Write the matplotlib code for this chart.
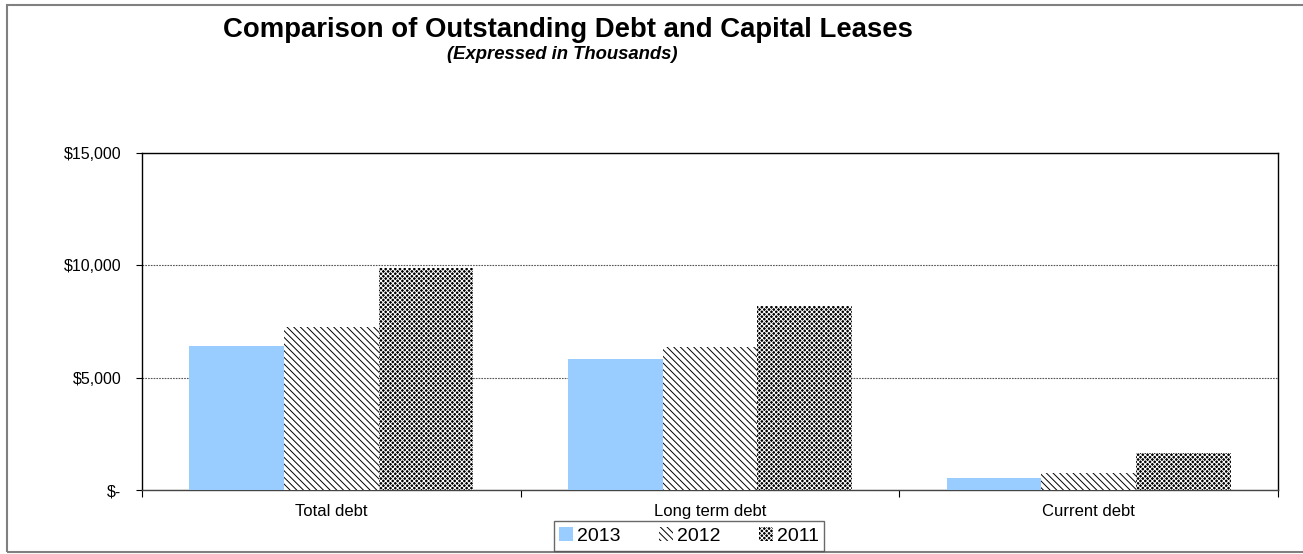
import numpy as np
import matplotlib
matplotlib.use('Agg')
import matplotlib.pyplot as plt
from matplotlib.patches import Rectangle
from matplotlib.ticker import FuncFormatter, MultipleLocator

plt.rcParams['font.family'] = ['Liberation Sans', 'DejaVu Sans']
plt.rcParams['hatch.linewidth'] = 0.7

categories = ['Total debt', 'Long term debt', 'Current debt']
years = ['2013', '2012', '2011']
debt_2013 = [6400, 5820, 530]
debt_2012 = [7240, 6360, 760]
debt_2011 = [9870, 8180, 1640]

barw = 0.25
col2013 = '#99ccff'

fig = plt.figure(figsize=(13.03, 5.54), dpi=100)
ax = fig.add_axes([142/1303, 1-490/554, 1136/1303, 337/554])

x = np.arange(len(categories))
ax.bar(x - barw, debt_2013, barw, color=col2013, linewidth=0, label=years[0], zorder=3)
ax.bar(x, debt_2012, barw, facecolor='white', edgecolor='black', hatch='\\\\\\\\\\',
       linewidth=0, label=years[1], zorder=3)
ax.bar(x + barw, debt_2011, barw, facecolor='black', edgecolor='white', hatch='xxxxxxx',
       linewidth=0, label=years[2], zorder=3)

ax.set_xlim(-0.5, 2.5)
ax.set_ylim(0, 15000)
ax.yaxis.set_major_locator(MultipleLocator(5000))
ax.yaxis.set_major_formatter(FuncFormatter(lambda v, p: '$-' if v == 0 else '${:,.0f}'.format(v)))
ax.yaxis.grid(True, color='#555555', linestyle=(0, (1.5, 1)), linewidth=0.8, zorder=0)

ax.set_xticks(x)
ax.set_xticklabels(categories)
ax.set_xticks([-0.5, 0.5, 1.5, 2.5], minor=True)
ax.tick_params(axis='x', which='major', length=0, pad=10, labelsize=12)
ax.tick_params(axis='x', which='minor', length=5, width=0.8, direction='out')
ax.tick_params(axis='y', length=4, width=0.8, pad=11, labelsize=11.5)

for s in ax.spines.values():
    s.set_linewidth(1.0)
    s.set_color('black')
ax.spines['bottom'].set_color('#444444')

fig.text(568/1303, 1-37/554, 'Comparison of Outstanding Debt and Capital Leases',
         ha='center', va='baseline', fontsize=19.8, fontweight='bold')
fig.text(562/1303, 1-59/554, '(Expressed in Thousands)',
         ha='center', va='baseline', fontsize=13.3, fontweight='bold', fontstyle='italic')

leg = fig.legend(loc='center', bbox_to_anchor=(689/1303, 1-536/554), ncol=3,
                 fontsize=14, frameon=True, fancybox=False, handlelength=0.7,
                 handleheight=0.7, handletextpad=0.2, columnspacing=2.0,
                 borderpad=0.3, borderaxespad=0)
leg.get_frame().set_edgecolor('#444444')
leg.get_frame().set_linewidth(1.0)

fig.patches.append(Rectangle((7/1303, 1-552/554), 1.2, 547/554, transform=fig.transFigure,
                             fill=False, edgecolor='#808080', linewidth=1.5, zorder=-1))

fig.savefig('out.png', dpi=100)
